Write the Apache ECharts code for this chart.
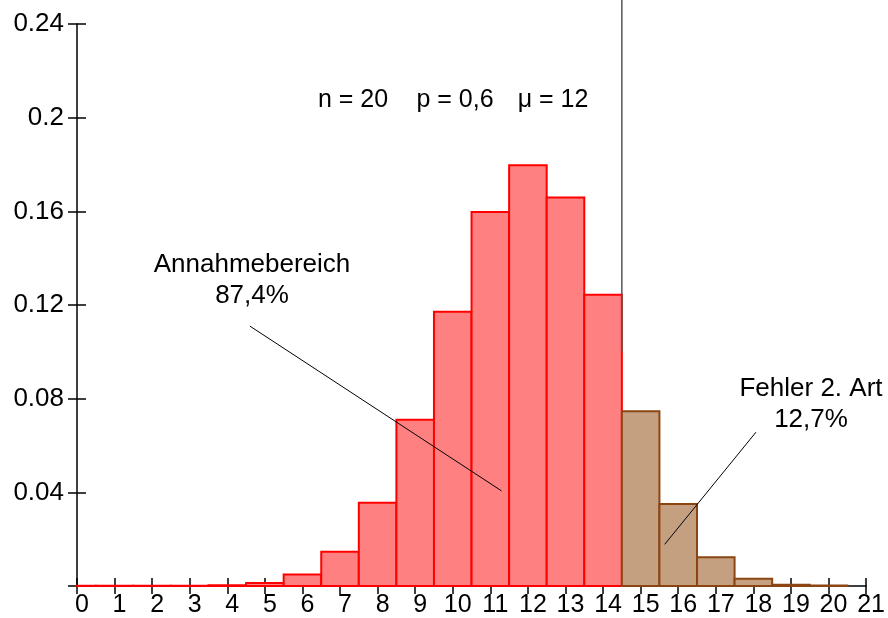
<!DOCTYPE html>
<html>
<head>
<meta charset="utf-8">
<script src="https://cdn.jsdelivr.net/npm/echarts@6/dist/echarts.min.js"></script>
<style>
  html, body { margin: 0; padding: 0; background: #fff; }
  #main { width: 888px; height: 618px; }
</style>
</head>
<body>
<div id="main"></div>
<script>
// Binomialverteilung n = 20, p = 0,6
var ks = [0, 1, 2, 3, 4, 5, 6, 7, 8, 9, 10, 11, 12, 13, 14, 15, 16, 17, 18, 19, 20];
var probs = [0.0001, 0.0001, 0.0001, 0.0001, 0.0003, 0.0013, 0.0049, 0.0146, 0.0355, 0.0710, 0.1171,
  0.1597, 0.1797, 0.1659, 0.1244, 0.0746, 0.0350, 0.0123, 0.0031, 0.0005, 0.0002];
var grenze = 14; // bis hier Annahmebereich
var trennLinie = [[14.5, 0.1], [14.5, 0.2505]];
var pfeilAnnahme = [[4.6, 0.111], [11.3, 0.0406]];
var pfeilFehler = [[18.07, 0.0657], [15.64, 0.0178]];

var font = "'Liberation Sans', Arial, sans-serif";
var chart = echarts.init(document.getElementById("main"));

var barData = ks.map(function(k, i) { return [k, probs[i]]; });

function renderBar(params, api) {
  var k = api.value(0);
  var v = api.value(1);
  var p0 = api.coord([k - 0.5, v]);
  var p1 = api.coord([k + 0.5, 0]);
  var rect = echarts.graphic.clipRectByRect(
    { x: p0[0], y: p0[1], width: p1[0] - p0[0], height: p1[1] - p0[1] },
    { x: params.coordSys.x, y: params.coordSys.y, width: params.coordSys.width, height: params.coordSys.height }
  );
  if (!rect) return;
  var rot = k <= grenze;
  return {
    type: "rect",
    shape: rect,
    style: {
      fill: rot ? "#ff8080" : "#c4a080",
      stroke: rot ? "#ff0000" : "#8b4513",
      lineWidth: 2
    }
  };
}

var xBase = {
  type: "value", min: 0, max: 21, interval: 1,
  axisLine: { show: true, onZero: false, lineStyle: { color: "#000", width: 1.5 } },
  splitLine: { show: false }
};
var yBase = {
  type: "value", min: 0, max: 0.24, interval: 0.04,
  axisLine: { show: true, onZero: false, lineStyle: { color: "#000", width: 1.5 } },
  splitLine: { show: false }
};

function txt(s, x, y, size) {
  return {
    type: "text", x: x, y: y,
    style: { text: s, font: size + "px " + font, fill: "#000", align: "center", verticalAlign: "middle" }
  };
}

chart.setOption({
  animation: false,
  grid: { left: 77, right: 20, top: 24, bottom: 32 },
  xAxis: [
    Object.assign({}, xBase, {
      axisTick: { show: true, length: 8, lineStyle: { color: "#000", width: 1.5 } },
      axisLabel: { margin: 7, color: "#000", fontSize: 25, fontFamily: font, padding: [0, 0, 0, 10] }
    }),
    Object.assign({}, xBase, {
      position: "bottom",
      axisLine: { show: false },
      axisTick: { show: true, inside: true, length: 8, lineStyle: { color: "#000", width: 1.5 } },
      axisLabel: { show: false }
    })
  ],
  yAxis: [
    Object.assign({}, yBase, {
      axisTick: { show: true, length: 9, lineStyle: { color: "#000", width: 1.5 } },
      axisLabel: {
        margin: 13, color: "#000", fontSize: 26, fontFamily: font, padding: [6, 0, 0, 0],
        formatter: function(v) { return v === 0 ? "" : String(+v.toFixed(2)); }
      }
    }),
    Object.assign({}, yBase, {
      position: "left",
      axisLine: { show: false },
      axisTick: { show: true, inside: true, length: 9, lineStyle: { color: "#000", width: 1.5 } },
      axisLabel: { show: false }
    })
  ],
  series: [
    {
      type: "custom",
      renderItem: renderBar,
      data: barData,
      encode: { x: 0, y: 1 },
      z: 2
    },
    {
      type: "line", data: trennLinie, clip: false, symbol: "none", z: 3,
      lineStyle: { color: "#555", width: 1.5 }
    },
    {
      type: "line", data: pfeilAnnahme, clip: false, symbol: "none", z: 4,
      lineStyle: { color: "#000", width: 1 }
    },
    {
      type: "line", data: pfeilFehler, clip: false, symbol: "none", z: 4,
      lineStyle: { color: "#000", width: 1 }
    }
  ],
  graphic: [
    txt("n = 20", 353, 100, 25),
    txt("p = 0,6", 455, 100, 25),
    txt("\u03bc = 12", 553, 100, 25),
    txt("Annahmebereich", 252, 265, 26),
    txt("87,4%", 252, 296, 26),
    txt("Fehler 2. Art", 811, 389, 26),
    txt("12,7%", 811, 420, 26)
  ]
});
</script>
</body>
</html>
